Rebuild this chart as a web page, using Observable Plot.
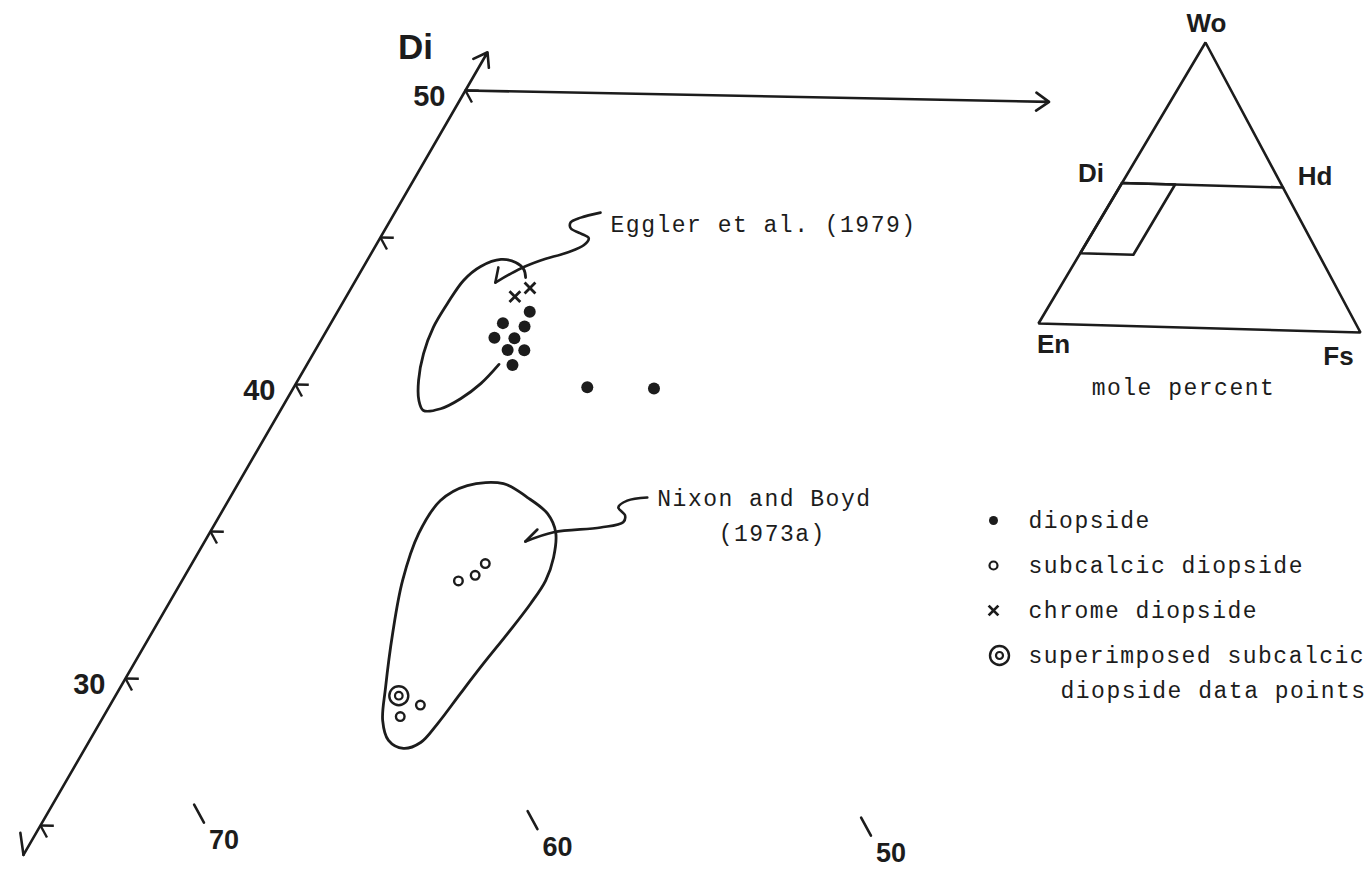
<!DOCTYPE html>
<html>
<head>
<meta charset="utf-8">
<script src="https://cdn.jsdelivr.net/npm/d3@7"></script>
<script src="https://cdn.jsdelivr.net/npm/@observablehq/plot@0.6"></script>
<style>
  html, body { margin: 0; padding: 0; background: #fff; }
  #fig { position: relative; width: 1371px; height: 869px; overflow: hidden; background: #fff; }
  #fig > svg { position: absolute; }
  [font-family*="Mono"] { letter-spacing: 1.5px; }
</style>
</head>
<body>
<div id="fig"></div>
<script>
// Pyroxene compositions, mole percent: wo = Wo, en = En (Fs = 100 - Wo - En)
const diopside = [
  {wo: 42.6, en: 51.7}, {wo: 42.2, en: 52.7}, {wo: 42.1, en: 52.1}, {wo: 41.7, en: 53.2},
  {wo: 41.7, en: 52.6}, {wo: 41.3, en: 53.0}, {wo: 41.3, en: 52.5}, {wo: 40.8, en: 53.1},
  {wo: 40.1, en: 51.2}, {wo: 40.1, en: 49.2}
];
const subcalcic = [
  {wo: 33.5, en: 58.3}, {wo: 33.7, en: 57.7}, {wo: 34.1, en: 57.2},
  {wo: 29.3, en: 61.5}, {wo: 28.9, en: 62.3}
];
const superimposed = [{wo: 29.6, en: 62.0}];
const chrome = [{wo: 43.1, en: 51.9}, {wo: 43.4, en: 51.3}];

// Field of Eggler et al. (1979), an open hand-drawn loop
const egglerField = [
  {wo: 40.81, en: 53.50}, {wo: 40.15, en: 54.37}, {wo: 39.63, en: 55.23}, {wo: 39.28, en: 56.00},
  {wo: 39.21, en: 56.55}, {wo: 39.55, en: 56.52}, {wo: 40.22, en: 56.20}, {wo: 41.12, en: 55.61},
  {wo: 42.01, en: 54.88}, {wo: 42.83, en: 54.05}, {wo: 43.61, en: 53.19}, {wo: 44.09, en: 52.44},
  {wo: 44.34, en: 51.71}, {wo: 44.25, en: 51.31}, {wo: 44.02, en: 51.18}, {wo: 43.75, en: 51.26}
];
// Field of Nixon and Boyd (1973a), closed
const nixonField = [
  {wo: 36.80, en: 55.33}, {wo: 36.35, en: 54.83}, {wo: 35.82, en: 54.49}, {wo: 35.20, en: 54.55},
  {wo: 34.35, en: 55.03}, {wo: 33.57, en: 55.65}, {wo: 32.79, en: 56.48}, {wo: 31.76, en: 57.68},
  {wo: 30.74, en: 58.90}, {wo: 29.72, en: 60.09}, {wo: 28.69, en: 61.28}, {wo: 28.04, en: 62.11},
  {wo: 27.83, en: 62.73}, {wo: 28.09, en: 63.05}, {wo: 28.75, en: 62.90}, {wo: 29.86, en: 62.27},
  {wo: 31.69, en: 61.16}, {wo: 33.47, en: 59.99}, {wo: 35.07, en: 58.72}, {wo: 36.19, en: 57.52},
  {wo: 36.71, en: 56.46}
];
// Leader arrows from the labels to the fields (last point is the tip)
const egglerLeader = [
  {wo: 45.98, en: 47.92}, {wo: 45.80, en: 48.60}, {wo: 45.63, en: 48.99}, {wo: 45.43, en: 49.08},
  {wo: 45.27, en: 48.87}, {wo: 45.11, en: 48.70}, {wo: 44.87, en: 48.97}, {wo: 44.62, en: 49.58},
  {wo: 44.33, en: 50.53}, {wo: 44.05, en: 51.26}, {wo: 43.56, en: 52.26}
];
const egglerBarb = {wo: 44.07, en: 51.92};
const nixonLeader = [
  {wo: 36.43, en: 51.20}, {wo: 36.31, en: 51.86}, {wo: 36.08, en: 52.24}, {wo: 35.81, en: 52.17},
  {wo: 35.58, en: 52.34}, {wo: 35.39, en: 53.11}, {wo: 35.20, en: 54.61}, {wo: 34.87, en: 55.62}
];
const nixonBarb = {wo: 35.28, en: 55.06};

// Axes
const diAxisWo = [24, 51.3];          // extent of the Di (Wo) edge, Fs = 0
const diTicks = [25, 30, 35, 40, 45, 50];
const diTickLabels = [30, 40, 50];
const enTicks = [70, 60, 50];          // En ticks along the lower edge
const enTickWo = [25.2, 25.8];
const joinFs = 17.5;                   // Di–Hd join at Wo 50 drawn out to this Fs

// Index triangle
const insetTriangle = [{wo: 0, fs: 0}, {wo: 0, fs: 100}, {wo: 100, fs: 0}];
const insetJoin = [{wo: 50, fs: 0}, {wo: 50, fs: 50}];
const insetWindow = [{wo: 50, fs: 0}, {wo: 50, fs: 16.5}, {wo: 25, fs: 16.5}, {wo: 25, fs: 0}];

const legendItems = ["diopside", "subcalcic diopside", "chrome diopside", "superimposed subcalcic"];
const legendNote = "diopside data points";

const ink = "#1c1c1c";
const sans = "Liberation Sans, Arial, sans-serif";
const mono = "Liberation Mono, Courier New, monospace";

// Projection of a composition onto the plane of the (slightly skewed) drawing
const fsOf = d => (d.fs !== undefined ? d.fs : 100 - d.wo - d.en);
const mx = d => fsOf(d) + 0.5097 * d.wo;
const my = d => d.wo - 0.0221 * fsOf(d);
const P = (wo, fs) => ({wo, fs});

const fig = document.getElementById("fig");

const main = Plot.plot({
  width: 1371,
  height: 869,
  margin: 0,
  x: {axis: null, domain: [11.544, 52.654], range: [0, 1371]},
  y: {axis: null, domain: [23.503, 53.061], range: [869, 0]},
  style: {background: "transparent", overflow: "visible"},
  marks: [
    // Di edge with arrowhead at the top and a single barb at the bottom
    Plot.arrow([0], {
      x1: () => mx(P(diAxisWo[0], 0)), y1: () => my(P(diAxisWo[0], 0)),
      x2: () => mx(P(diAxisWo[1], 0)), y2: () => my(P(diAxisWo[1], 0)),
      stroke: ink, strokeWidth: 2.6, headLength: 9, headAngle: 70
    }),
    Plot.link([0], {
      x1: () => mx(P(diAxisWo[0], 0)), y1: () => my(P(diAxisWo[0], 0)),
      x2: () => mx(P(diAxisWo[0] + 0.74, -0.47)), y2: () => my(P(diAxisWo[0] + 0.74, -0.47)),
      stroke: ink, strokeWidth: 2.6, strokeLinecap: "round"
    }),
    // Di–Hd join at Wo 50
    Plot.arrow([0], {
      x1: () => mx(P(50, 0)), y1: () => my(P(50, 0)),
      x2: () => mx(P(50, joinFs)), y2: () => my(P(50, joinFs)),
      stroke: ink, strokeWidth: 2.6, headLength: 9, headAngle: 70
    }),
    // Wo ticks: a short stub along constant Wo and one along constant En
    Plot.link(diTicks, {
      x1: t => mx(P(t, 0)), y1: t => my(P(t, 0)),
      x2: t => mx(P(t, 0.4)), y2: t => my(P(t, 0.4)),
      stroke: ink, strokeWidth: 2.4
    }),
    Plot.link(diTicks, {
      x1: t => mx(P(t, 0)), y1: t => my(P(t, 0)),
      x2: t => mx(P(t - 0.4, 0.4)), y2: t => my(P(t - 0.4, 0.4)),
      stroke: ink, strokeWidth: 2.4
    }),
    Plot.text(diTickLabels, {
      x: t => mx(P(t, 0)), y: t => my(P(t, 0)), text: t => String(t),
      textAnchor: "end", dx: -20, dy: 6,
      fontFamily: sans, fontWeight: "bold", fontSize: 29, fill: ink
    }),
    Plot.text(["Di"], {
      x: () => mx(P(diAxisWo[1], 0)), y: () => my(P(diAxisWo[1], 0)), text: d => d,
      dx: -72, dy: -4, fontFamily: sans, fontWeight: "bold", fontSize: 35, fill: ink
    }),
    // En ticks along the lower edge
    Plot.link(enTicks, {
      x1: e => mx({wo: enTickWo[0], en: e}), y1: e => my({wo: enTickWo[0], en: e}),
      x2: e => mx({wo: enTickWo[1], en: e}), y2: e => my({wo: enTickWo[1], en: e}),
      stroke: ink, strokeWidth: 2.6, strokeLinecap: "round"
    }),
    Plot.text(enTicks, {
      x: e => mx({wo: enTickWo[0], en: e}), y: e => my({wo: enTickWo[0], en: e}),
      text: e => String(e), dx: 20, dy: 18,
      fontFamily: sans, fontWeight: "bold", fontSize: 27, fill: ink
    }),
    // Fields
    Plot.line(egglerField, {x: mx, y: my, curve: "catmull-rom", stroke: ink, strokeWidth: 2.8}),
    Plot.line(nixonField, {x: mx, y: my, curve: "catmull-rom-closed", stroke: ink, strokeWidth: 2.8}),
    // Leaders
    Plot.line(egglerLeader, {x: mx, y: my, curve: "catmull-rom", stroke: ink, strokeWidth: 2.6}),
    Plot.link([egglerLeader[egglerLeader.length - 1]], {
      x1: mx, y1: my, x2: () => mx(egglerBarb), y2: () => my(egglerBarb),
      stroke: ink, strokeWidth: 2.6, strokeLinecap: "round"
    }),
    Plot.line(nixonLeader, {x: mx, y: my, curve: "catmull-rom", stroke: ink, strokeWidth: 2.6}),
    Plot.link([nixonLeader[nixonLeader.length - 1]], {
      x1: mx, y1: my, x2: () => mx(nixonBarb), y2: () => my(nixonBarb),
      stroke: ink, strokeWidth: 2.6, strokeLinecap: "round"
    }),
    Plot.text([egglerLeader[0]], {
      x: mx, y: my, text: () => "Eggler et al. (1979)", textAnchor: "start", dx: 10, dy: 12,
      fontFamily: mono, fontSize: 23, fill: ink
    }),
    Plot.text([nixonLeader[0]], {
      x: mx, y: my, text: () => "Nixon and Boyd", textAnchor: "start", dx: 10, dy: 1,
      fontFamily: mono, fontSize: 23, fill: ink
    }),
    Plot.text([nixonLeader[0]], {
      x: mx, y: my, text: () => "(1973a)", textAnchor: "middle", dx: 125, dy: 36,
      fontFamily: mono, fontSize: 23, fill: ink
    }),
    // Data points
    Plot.dot(diopside, {x: mx, y: my, r: 6, fill: ink}),
    Plot.dot(subcalcic, {x: mx, y: my, r: 4.3, stroke: ink, strokeWidth: 2.4, fill: "white"}),
    Plot.dot(superimposed, {x: mx, y: my, r: 9.5, stroke: ink, strokeWidth: 2.4, fill: "white"}),
    Plot.dot(superimposed, {x: mx, y: my, r: 3.8, stroke: ink, strokeWidth: 2.2, fill: "white"}),
    Plot.dot(chrome, {x: mx, y: my, r: 5, symbol: "times", stroke: ink, strokeWidth: 2.8})
  ]
});
main.style.left = "0px";
main.style.top = "0px";
fig.appendChild(main);

// Index triangle Wo–En–Fs with the enlarged window
const ix = d => d.fs + 0.5186 * d.wo;
const iy = d => d.wo - 0.032 * d.fs;
const vertexLabel = (v, label, dx, dy, font = sans, size = 26, weight = "bold") =>
  Plot.text([v], {x: ix, y: iy, text: () => label, dx, dy,
    fontFamily: font, fontSize: size, fontWeight: weight, fill: ink});

const inset = Plot.plot({
  width: 371,
  height: 410,
  margin: 0,
  x: {axis: null, domain: [-11.80, 103.42], range: [0, 371]},
  y: {axis: null, domain: [-30.96, 114.95], range: [410, 0]},
  style: {background: "transparent", overflow: "visible"},
  marks: [
    Plot.line(insetTriangle, {x: ix, y: iy, curve: "linear-closed", stroke: ink, strokeWidth: 2.6, strokeLinejoin: "miter"}),
    Plot.line(insetJoin, {x: ix, y: iy, stroke: ink, strokeWidth: 2.6}),
    Plot.line(insetWindow, {x: ix, y: iy, curve: "linear-closed", stroke: ink, strokeWidth: 2.6}),
    vertexLabel(P(100, 0), "Wo", 1, -19),
    vertexLabel(P(50, 0), "Di", -31, -9),
    vertexLabel(P(50, 50), "Hd", 32, -11),
    vertexLabel(P(0, 0), "En", 15, 21),
    vertexLabel(P(0, 100), "Fs", -22, 24),
    vertexLabel(P(0, 50), "mole percent", -16, 60, mono, 23, "normal")
  ]
});
inset.style.left = "1000px";
inset.style.top = "0px";
fig.appendChild(inset);

// Symbol key
const legend = Plot.plot({
  width: 406,
  height: 220,
  margin: 0,
  x: {axis: null, domain: [0, 1], range: [28, 63]},
  y: {axis: null, type: "point", padding: 0, domain: legendItems, range: [25, 160]},
  style: {background: "transparent", overflow: "visible"},
  marks: [
    Plot.dot([legendItems[0]], {x: 0, y: d => d, r: 4.5, fill: ink}),
    Plot.dot([legendItems[1]], {x: 0, y: d => d, r: 4, stroke: ink, strokeWidth: 2.2, fill: "white"}),
    Plot.dot([legendItems[2]], {x: 0, y: d => d, r: 4.5, symbol: "times", stroke: ink, strokeWidth: 2.8}),
    Plot.dot([legendItems[3]], {x: 0, y: d => d, r: 9.5, stroke: ink, strokeWidth: 2.4, fill: "white", dx: 6}),
    Plot.dot([legendItems[3]], {x: 0, y: d => d, r: 3.5, stroke: ink, strokeWidth: 2.2, fill: "white", dx: 6}),
    Plot.text(legendItems, {x: 1, y: d => d, text: d => d, textAnchor: "start",
      fontFamily: mono, fontSize: 23, fill: ink}),
    Plot.text([legendNote], {x: 1, y: () => legendItems[3], text: d => d, textAnchor: "start",
      dx: 32, dy: 35, fontFamily: mono, fontSize: 23, fill: ink})
  ]
});
legend.style.left = "965px";
legend.style.top = "495px";
fig.appendChild(legend);
</script>
</body>
</html>
